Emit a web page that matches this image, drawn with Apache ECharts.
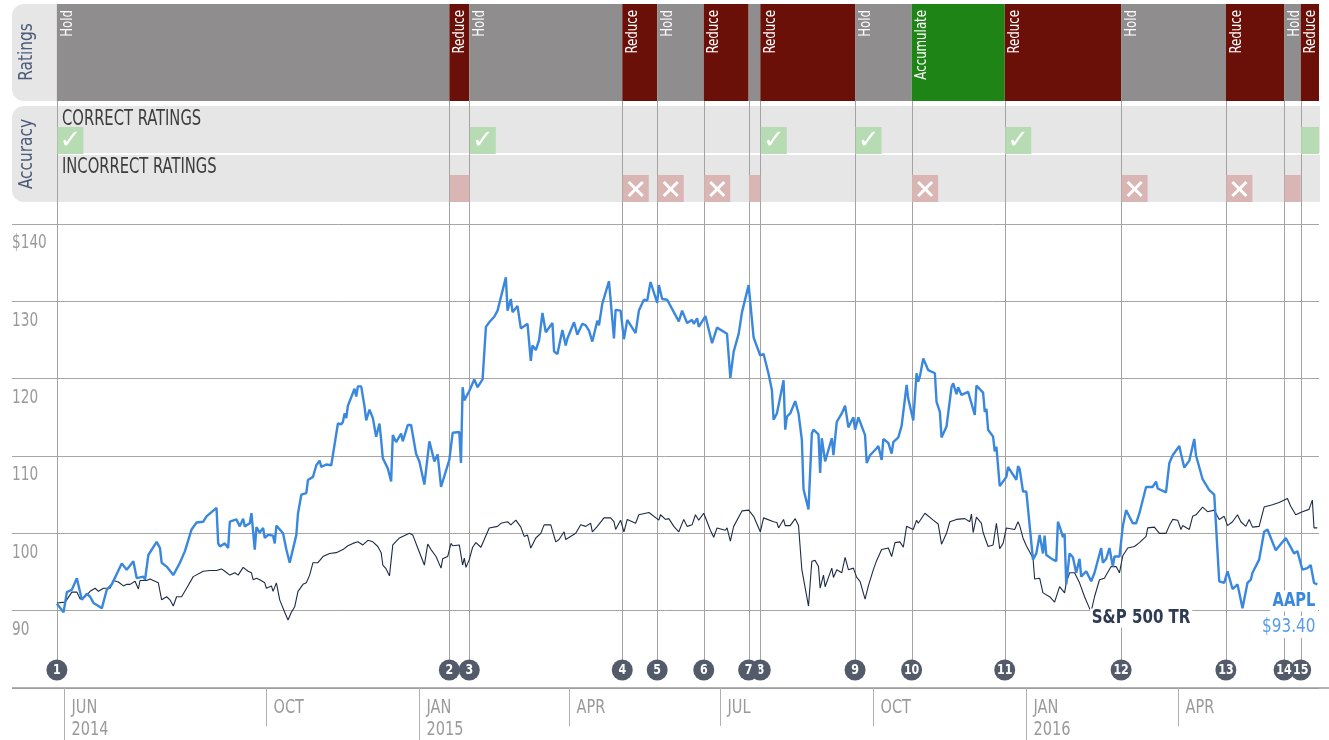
<!DOCTYPE html>
<html><head><meta charset="utf-8">
<script src="https://cdn.jsdelivr.net/npm/echarts@6/dist/echarts.min.js"></script>
<style>html,body{margin:0;padding:0;background:#fff;}#c{width:1329px;height:740px;}</style>
</head><body><div id="c"></div>
<script>
// ---------------- DATA ----------------
const aaplPrice = [
['2014-05-28',90.9],['2014-06-01',89.8],['2014-06-03',92.4],['2014-06-06',92.7],['2014-06-09',94.2],['2014-06-12',91.4],
['2014-06-15',92.2],['2014-06-17',91.8],['2014-06-19',91.0],['2014-06-22',90.6],['2014-06-24',90.3],['2014-06-27',92.7],
['2014-06-30',93.4],['2014-07-06',96.1],['2014-07-09',95.3],['2014-07-13',96.4],['2014-07-15',94.2],['2014-07-19',94.4],
['2014-07-20',94.0],['2014-07-22',97.2],['2014-07-27',98.9],['2014-07-29',98.1],['2014-07-30',96.2],['2014-08-02',95.7],
['2014-08-06',94.6],['2014-08-10',96.2],['2014-08-13',97.7],['2014-08-17',100.5],['2014-08-20',101.4],['2014-08-24',101.5],
['2014-08-26',102.2],['2014-09-01',103.3],['2014-09-02',98.7],['2014-09-03',98.3],['2014-09-06',98.7],['2014-09-08',98.1],
['2014-09-09',101.5],['2014-09-13',101.8],['2014-09-15',100.9],['2014-09-17',101.9],['2014-09-18',100.9],['2014-09-21',101.3],
['2014-09-22',102.6],['2014-09-24',97.9],['2014-09-25',100.8],['2014-09-27',100.1],['2014-09-29',100.7],['2014-09-30',99.4],
['2014-10-02',99.8],['2014-10-05',99.7],['2014-10-06',98.7],['2014-10-07',101.0],['2014-10-11',100.0],['2014-10-13',97.9],
['2014-10-15',96.2],['2014-10-19',99.8],['2014-10-20',102.6],['2014-10-22',105.0],['2014-10-25',105.2],['2014-10-26',106.9],
['2014-10-29',107.3],['2014-10-31',108.8],['2014-11-02',109.4],['2014-11-03',108.6],['2014-11-06',108.9],['2014-11-09',108.8],
['2014-11-13',114.2],['2014-11-15',114.1],['2014-11-16',114.4],['2014-11-17',115.5],['2014-11-18',114.9],['2014-11-19',116.5],
['2014-11-23',118.7],['2014-11-24',117.7],['2014-11-25',119.0],['2014-11-27',119.0],['2014-11-29',116.4],['2014-11-30',114.6],
['2014-12-02',116.0],['2014-12-04',114.9],['2014-12-06',112.5],['2014-12-08',114.2],['2014-12-09',112.1],['2014-12-10',109.7],
['2014-12-13',108.4],['2014-12-15',106.7],['2014-12-16',112.7],['2014-12-18',111.8],['2014-12-21',112.9],['2014-12-22',111.9],
['2014-12-25',114.0],['2014-12-27',114.0],['2014-12-30',110.3],['2015-01-01',109.3],['2015-01-04',106.3],['2015-01-07',111.9],
['2015-01-10',109.3],['2015-01-12',110.2],['2015-01-14',106.0],['2015-01-19',109.5],['2015-01-21',113.0],['2015-01-25',113.1],
['2015-01-26',109.1],['2015-01-27',118.9],['2015-01-28',117.2],['2015-01-31',118.4],['2015-02-03',119.9],['2015-02-05',118.9],
['2015-02-08',119.9],['2015-02-10',126.7],['2015-02-12',127.3],['2015-02-15',128.0],['2015-02-17',128.8],['2015-02-18',128.9],
['2015-02-22',133.1],['2015-02-23',128.8],['2015-02-25',130.3],['2015-02-26',128.6],['2015-03-01',129.4],['2015-03-03',126.5],
['2015-03-07',127.1],['2015-03-09',122.3],['2015-03-10',124.3],['2015-03-12',123.7],['2015-03-14',125.0],['2015-03-16',128.5],
['2015-03-18',126.0],['2015-03-22',127.2],['2015-03-23',123.5],['2015-03-25',123.2],['2015-03-28',126.3],['2015-03-30',124.3],
['2015-03-31',125.2],['2015-04-04',127.3],['2015-04-06',125.7],['2015-04-09',127.1],['2015-04-11',126.9],['2015-04-13',126.2],
['2015-04-15',124.8],['2015-04-18',127.5],['2015-04-19',126.9],['2015-04-21',129.7],['2015-04-25',132.6],['2015-04-28',125.2],
['2015-04-29',128.9],['2015-05-02',128.8],['2015-05-04',125.1],['2015-05-06',127.6],['2015-05-11',125.9],['2015-05-13',128.8],
['2015-05-16',130.2],['2015-05-18',130.1],['2015-05-20',132.5],['2015-05-24',129.8],['2015-05-25',132.1],['2015-05-27',130.3],
['2015-05-30',130.2],['2015-06-03',128.6],['2015-06-06',127.4],['2015-06-08',128.8],['2015-06-11',127.2],['2015-06-14',127.6],
['2015-06-15',127.1],['2015-06-17',127.8],['2015-06-18',126.7],['2015-06-22',128.1],['2015-06-26',124.6],['2015-06-29',126.6],
['2015-07-05',125.8],['2015-07-07',120.1],['2015-07-09',123.5],['2015-07-12',125.8],['2015-07-14',128.6],['2015-07-18',132.1],
['2015-07-21',125.3],['2015-07-22',125.1],['2015-07-25',123.0],['2015-07-27',123.2],['2015-07-30',120.6],['2015-08-01',118.5],
['2015-08-02',114.7],['2015-08-04',115.5],['2015-08-05',115.4],['2015-08-08',119.8],['2015-08-09',113.4],['2015-08-10',115.1],
['2015-08-12',115.5],['2015-08-15',117.1],['2015-08-17',115.5],['2015-08-19',112.1],['2015-08-20',105.7],['2015-08-23',103.1],
['2015-08-25',112.9],['2015-08-26',113.4],['2015-08-29',112.8],['2015-08-30',107.8],['2015-08-31',112.3],['2015-09-02',109.3],
['2015-09-06',112.3],['2015-09-07',110.1],['2015-09-09',114.4],['2015-09-12',115.5],['2015-09-14',116.5],['2015-09-16',113.7],
['2015-09-19',115.0],['2015-09-20',113.4],['2015-09-22',115.0],['2015-09-26',112.7],['2015-09-27',109.1],['2015-09-29',110.1],
['2015-10-03',111.0],['2015-10-04',111.3],['2015-10-06',109.5],['2015-10-07',112.2],['2015-10-10',111.7],['2015-10-12',110.3],
['2015-10-13',111.8],['2015-10-16',112.4],['2015-10-18',113.9],['2015-10-21',119.2],['2015-10-22',117.4],['2015-10-25',114.6],
['2015-10-27',120.7],['2015-10-28',119.6],['2015-10-29',120.3],['2015-10-31',122.6],['2015-11-03',121.1],['2015-11-07',120.7],
['2015-11-08',117.0],['2015-11-10',115.7],['2015-11-11',112.4],['2015-11-14',113.8],['2015-11-15',113.9],['2015-11-17',118.9],
['2015-11-18',119.4],['2015-11-20',118.0],['2015-11-21',118.9],['2015-11-23',117.9],['2015-11-27',118.3],['2015-12-01',115.3],
['2015-12-02',119.1],['2015-12-06',118.2],['2015-12-07',115.7],['2015-12-08',116.1],['2015-12-09',113.4],['2015-12-12',112.5],
['2015-12-13',110.6],['2015-12-14',111.2],['2015-12-16',106.1],['2015-12-20',107.3],['2015-12-21',108.6],['2015-12-26',106.9],
['2015-12-27',108.7],['2015-12-28',108.3],['2015-12-30',105.4],['2016-01-01',105.4],['2016-01-05',96.6],['2016-01-07',97.4],
['2016-01-09',99.8],['2016-01-11',97.4],['2016-01-12',99.7],['2016-01-13',97.2],['2016-01-17',96.6],['2016-01-19',96.4],
['2016-01-20',101.5],['2016-01-21',100.9],['2016-01-23',99.5],['2016-01-24',99.9],['2016-01-25',93.4],['2016-01-27',97.4],
['2016-01-29',96.9],['2016-01-31',94.9],['2016-02-02',96.7],['2016-02-03',94.4],['2016-02-06',95.1],['2016-02-09',93.8],
['2016-02-11',94.9],['2016-02-15',98.1],['2016-02-16',96.2],['2016-02-18',96.7],['2016-02-20',98.1],['2016-02-22',95.7],
['2016-02-23',97.0],['2016-02-26',97.0],['2016-02-28',100.9],['2016-03-01',103.0],['2016-03-05',101.3],['2016-03-07',101.3],
['2016-03-09',102.6],['2016-03-13',106.0],['2016-03-17',106.0],['2016-03-19',106.7],['2016-03-20',105.8],['2016-03-25',105.3],
['2016-03-27',109.1],['2016-03-29',110.1],['2016-04-02',111.3],['2016-04-03',110.3],['2016-04-05',108.5],['2016-04-08',109.4],
['2016-04-11',112.2],['2016-04-12',110.1],['2016-04-16',107.0],['2016-04-20',105.6],['2016-04-23',105.0],['2016-04-26',93.8],
['2016-04-29',93.6],['2016-05-01',95.1],['2016-05-04',92.8],['2016-05-07',93.4],['2016-05-10',90.3],['2016-05-13',93.6],
['2016-05-15',94.0],['2016-05-16',94.9],['2016-05-20',96.6],['2016-05-23',100.2],['2016-05-25',100.5],['2016-05-30',97.8],
['2016-06-05',99.4],['2016-06-10',97.4],['2016-06-12',97.7],['2016-06-15',95.3],['2016-06-18',95.5],['2016-06-20',95.9],
['2016-06-22',93.6],['2016-06-24',93.40]
];
const spxTotalReturn = [
['2014-05-28',91.0],['2014-06-02',91.1],['2014-06-06',92.4],['2014-06-09',92.4],['2014-06-11',91.5],['2014-06-14',91.8],
['2014-06-17',92.5],['2014-06-20',92.9],['2014-06-22',92.5],['2014-06-25',92.9],['2014-06-29',92.9],['2014-07-01',93.9],
['2014-07-04',93.7],['2014-07-07',93.2],['2014-07-09',93.4],['2014-07-11',93.4],['2014-07-14',93.8],['2014-07-16',92.8],
['2014-07-17',93.9],['2014-07-21',93.9],['2014-07-23',94.1],['2014-07-28',93.6],['2014-07-30',91.4],['2014-08-02',91.8],
['2014-08-04',91.4],['2014-08-06',90.6],['2014-08-08',91.8],['2014-08-11',91.8],['2014-08-14',92.9],['2014-08-18',94.4],
['2014-08-24',95.1],['2014-08-28',95.2],['2014-09-01',95.2],['2014-09-04',95.4],['2014-09-06',95.1],['2014-09-09',94.6],
['2014-09-12',94.9],['2014-09-14',94.6],['2014-09-17',95.6],['2014-09-20',95.1],['2014-09-22',94.9],['2014-09-23',94.0],
['2014-09-25',94.2],['2014-09-27',94.0],['2014-09-30',93.6],['2014-10-01',92.9],['2014-10-04',93.2],['2014-10-05',92.5],
['2014-10-07',93.6],['2014-10-09',91.4],['2014-10-12',89.8],['2014-10-14',88.8],['2014-10-16',89.8],['2014-10-18',90.5],
['2014-10-20',92.5],['2014-10-21',92.7],['2014-10-23',93.4],['2014-10-25',93.6],['2014-10-27',94.6],['2014-10-29',96.2],
['2014-11-01',96.2],['2014-11-04',97.0],['2014-11-08',97.4],['2014-11-12',97.5],['2014-11-16',97.9],['2014-11-19',98.4],
['2014-11-22',98.7],['2014-11-25',98.9],['2014-11-28',98.5],['2014-12-01',99.1],['2014-12-04',98.9],['2014-12-07',98.3],
['2014-12-09',97.5],['2014-12-10',95.9],['2014-12-12',95.4],['2014-12-14',94.5],['2014-12-16',98.5],['2014-12-20',99.4],
['2014-12-26',100.0],['2014-12-28',99.8],['2014-12-31',98.1],['2015-01-02',97.0],['2015-01-04',95.9],['2015-01-06',98.6],
['2015-01-08',97.9],['2015-01-11',97.0],['2015-01-14',95.5],['2015-01-15',96.7],['2015-01-18',97.0],['2015-01-20',98.7],
['2015-01-21',98.4],['2015-01-25',98.5],['2015-01-27',95.9],['2015-01-28',96.8],['2015-01-29',95.6],['2015-01-31',96.6],
['2015-02-02',98.2],['2015-02-04',98.8],['2015-02-07',98.2],['2015-02-09',99.2],['2015-02-12',100.7],['2015-02-17',100.9],
['2015-02-19',101.3],['2015-02-23',101.5],['2015-02-25',101.1],['2015-02-28',101.7],['2015-03-03',100.8],['2015-03-05',99.6],
['2015-03-07',99.8],['2015-03-09',98.1],['2015-03-12',99.4],['2015-03-15',100.0],['2015-03-17',101.1],['2015-03-18',101.3],
['2015-03-21',101.1],['2015-03-24',98.9],['2015-03-26',99.2],['2015-03-29',100.2],['2015-03-30',99.2],['2015-04-05',100.0],
['2015-04-08',101.1],['2015-04-11',100.9],['2015-04-14',101.3],['2015-04-15',100.2],['2015-04-18',100.9],['2015-04-22',102.0],
['2015-04-26',102.0],['2015-04-28',101.5],['2015-04-29',100.5],['2015-05-02',101.7],['2015-05-04',100.2],['2015-05-06',101.8],
['2015-05-11',101.3],['2015-05-13',102.4],['2015-05-19',102.7],['2015-05-25',101.7],['2015-05-26',102.4],['2015-05-29',101.8],
['2015-05-31',101.9],['2015-06-03',100.9],['2015-06-06',100.2],['2015-06-09',101.8],['2015-06-11',100.9],['2015-06-14',101.1],
['2015-06-16',102.4],['2015-06-18',101.7],['2015-06-21',102.6],['2015-06-25',100.4],['2015-06-27',99.5],['2015-06-29',100.7],
['2015-07-04',100.4],['2015-07-05',100.7],['2015-07-07',99.0],['2015-07-09',100.9],['2015-07-14',102.9],['2015-07-18',103.0],
['2015-07-21',102.2],['2015-07-25',100.2],['2015-07-27',102.0],['2015-08-02',101.5],['2015-08-04',101.4],['2015-08-05',100.7],
['2015-08-08',101.8],['2015-08-09',101.0],['2015-08-12',101.0],['2015-08-15',101.9],['2015-08-17',101.0],['2015-08-19',95.3],
['2015-08-23',90.6],['2015-08-25',96.4],['2015-08-27',96.5],['2015-08-29',95.7],['2015-08-30',92.9],['2015-09-01',94.6],
['2015-09-02',93.1],['2015-09-06',95.5],['2015-09-07',94.3],['2015-09-09',95.3],['2015-09-12',94.9],['2015-09-14',96.9],
['2015-09-16',95.3],['2015-09-19',95.5],['2015-09-21',94.3],['2015-09-23',93.8],['2015-09-26',91.5],['2015-09-28',93.2],
['2015-10-01',95.3],['2015-10-03',96.5],['2015-10-06',97.9],['2015-10-10',98.1],['2015-10-12',97.0],['2015-10-14',98.8],
['2015-10-17',98.9],['2015-10-19',98.2],['2015-10-21',100.9],['2015-10-25',100.5],['2015-10-27',101.7],['2015-10-28',101.3],
['2015-11-01',102.6],['2015-11-06',101.7],['2015-11-09',101.2],['2015-11-11',98.6],['2015-11-14',100.0],['2015-11-16',101.5],
['2015-11-20',101.8],['2015-11-25',101.9],['2015-11-28',101.5],['2015-11-29',102.5],['2015-11-30',100.1],['2015-12-02',102.1],
['2015-12-05',101.3],['2015-12-06',100.1],['2015-12-09',98.3],['2015-12-12',98.5],['2015-12-14',101.3],['2015-12-16',98.0],
['2015-12-18',98.7],['2015-12-20',100.7],['2015-12-25',100.5],['2015-12-27',101.5],['2015-12-28',101.0],['2015-12-30',99.4],
['2016-01-01',98.4],['2016-01-05',96.8],['2016-01-06',94.1],['2016-01-09',94.2],['2016-01-11',92.3],['2016-01-15',91.8],
['2016-01-18',91.1],['2016-01-21',93.1],['2016-01-24',92.3],['2016-01-25',93.6],['2016-01-27',94.9],['2016-01-30',94.9],
['2016-02-02',93.6],['2016-02-05',91.8],['2016-02-08',90.3],['2016-02-09',89.9],['2016-02-11',91.8],['2016-02-14',94.0],
['2016-02-17',94.2],['2016-02-18',94.6],['2016-02-21',95.7],['2016-02-24',95.7],['2016-02-26',94.9],['2016-02-28',97.1],
['2016-03-02',98.1],['2016-03-06',98.3],['2016-03-09',98.8],['2016-03-13',99.6],['2016-03-14',100.7],['2016-03-18',100.8],
['2016-03-21',100.0],['2016-03-25',100.0],['2016-03-27',101.0],['2016-03-29',101.8],['2016-04-01',101.7],['2016-04-03',100.5],
['2016-04-04',101.0],['2016-04-08',100.5],['2016-04-10',102.2],['2016-04-12',102.4],['2016-04-16',103.4],['2016-04-19',102.8],
['2016-04-23',103.0],['2016-04-26',101.8],['2016-04-29',102.2],['2016-05-01',101.0],['2016-05-04',101.5],['2016-05-07',102.4],
['2016-05-09',101.5],['2016-05-12',100.9],['2016-05-14',101.8],['2016-05-16',100.8],['2016-05-20',100.9],['2016-05-23',103.4],
['2016-05-28',103.7],['2016-06-01',104.0],['2016-06-06',104.5],['2016-06-08',103.5],['2016-06-11',102.4],['2016-06-15',102.8],
['2016-06-19',103.1],['2016-06-21',104.3],['2016-06-22',100.7],['2016-06-24',100.7]
];
const eventDates = ['2014-05-28','2015-01-19','2015-01-31','2015-05-03','2015-05-24','2015-06-21','2015-07-18','2015-07-25',
  '2015-09-20','2015-10-24','2015-12-19','2016-02-27','2016-04-30','2016-06-04','2016-06-14'];
const eventNumbers = ['1','2','3','4','5','6','7','8','9','10','11','12','13','14','15'];
const ratings = ['Hold','Reduce','Hold','Reduce','Hold','Reduce','Hold','Reduce','Hold','Accumulate','Reduce','Hold','Reduce','Hold','Reduce'];
const ratingCorrect = [true,false,true,false,false,false,false,true,true,false,true,false,false,false,true];
const periodEnd = '2016-06-25';
const axisStart = '2014-05-01';
const yTicks = [80, 90, 100, 110, 120, 130, 140];
const xTickDates = ['2014-06-01','2014-10-01','2015-01-01','2015-04-01','2015-07-01','2015-10-01','2016-01-01','2016-04-01'];
const xTickLabels = ['JUN\n2014','OCT','JAN\n2015','APR','JUL','OCT','JAN\n2016','APR'];
const seriesNames = ['AAPL','S&P 500 TR'];

// ---------------- BUILD ----------------
function toTs(s){const p=s.split('-').map(Number);return new Date(p[0],p[1]-1,p[2]).getTime();}
const FONT = "'DejaVu Sans Condensed','DejaVu Sans','Noto Sans',sans-serif";
const ratingColor = {Hold:'#8f8d8e', Reduce:'#6a1008', Accumulate:'#1f8416'};
const bands = eventDates.map((d,i)=>({start:toTs(d), end:toTs(eventDates[i+1]||periodEnd), rating:ratings[i], correct:ratingCorrect[i], num:eventNumbers[i]}));
const L = 12, W = 1307;
function grid(top,height){return {left:L,width:W,top,height,containLabel:false,outerBoundsMode:'none'};}
function tAxis(g){return {type:'time',gridIndex:g,min:toTs(axisStart),max:toTs(periodEnd),show:false};}
function uAxis(g){return {type:'value',gridIndex:g,min:0,max:1,show:false};}

const chart = echarts.init(document.getElementById('c'), null, {renderer:'canvas'});
const option = {
  animation:false,
  backgroundColor:'#fff',
  grid:[grid(224,464), grid(101,559), grid(660,20), grid(4,97), grid(106,96), grid(688,52)],
  xAxis:[tAxis(0),tAxis(1),tAxis(2),tAxis(3),tAxis(4),tAxis(5)],
  yAxis:[
    {type:'value',gridIndex:0,min:yTicks[0],max:yTicks[yTicks.length-1],interval:10,
     axisLine:{show:false},axisTick:{show:false},axisLabel:{show:false},
     splitLine:{show:true,lineStyle:{color:'#a6a6a6',width:1}}},
    uAxis(1),uAxis(2),uAxis(3),uAxis(4),uAxis(5)
  ],
  graphic:{elements:[
    {type:'rect',z:0,shape:{x:12,y:4,width:48,height:97,r:[12,0,0,12]},style:{fill:'#e6e6e6'}},
    {type:'text',z:1,x:27,y:52,rotation:Math.PI/2,scaleX:0.9,style:{text:'Ratings',align:'center',verticalAlign:'middle',fill:'#4d5b78',font:'19px '+FONT}},
    {type:'rect',z:0,shape:{x:12,y:106,width:1308,height:96,r:[12,0,0,12]},style:{fill:'#e6e6e6'}},
    {type:'rect',z:0,shape:{x:57,y:153,width:1263,height:2},style:{fill:'#ffffff'}},
    {type:'text',z:1,x:27,y:154,rotation:Math.PI/2,scaleX:0.9,style:{text:'Accuracy',align:'center',verticalAlign:'middle',fill:'#4d5b78',font:'19px '+FONT}},
    {type:'text',z:1,x:62,y:120,scaleX:0.78,style:{text:'CORRECT RATINGS',align:'left',verticalAlign:'middle',fill:'#3c3c3c',font:'21px '+FONT}},
    {type:'text',z:1,x:62,y:168,scaleX:0.78,style:{text:'INCORRECT RATINGS',align:'left',verticalAlign:'middle',fill:'#3c3c3c',font:'21px '+FONT}},
    {type:'line',z:1,shape:{x1:12,y1:688,x2:1329,y2:688},style:{stroke:'#9a9a9a',lineWidth:1.5}},
    {type:'text',z:50,x:1318,y:601,scaleX:0.86,style:{text:seriesNames[0],align:'right',verticalAlign:'middle',fill:'#3a87de',font:'bold 19px '+FONT,backgroundColor:'#fff',padding:[1,3]}},
    {type:'text',z:50,x:1318,y:627,scaleX:0.85,style:{text:'$'+aaplPrice[aaplPrice.length-1][1].toFixed(2),align:'right',verticalAlign:'middle',fill:'#5a9de6',font:'20px '+FONT,backgroundColor:'#fff',padding:[1,3]}},
    {type:'text',z:50,x:1090,y:618,scaleX:0.88,style:{text:seriesNames[1],align:'left',verticalAlign:'middle',fill:'#2f3b52',font:'bold 19px '+FONT,backgroundColor:'#fff',padding:[0,2]}}
  ]},
  series:[
    // y tick labels
    {type:'custom',xAxisIndex:0,yAxisIndex:0,z:1,silent:true,data:yTicks.slice(1).map(v=>[toTs(axisStart),v]),
     renderItem:(params,api)=>{const v=api.value(1);const y=api.coord([api.value(0),v])[1];const top=yTicks[yTicks.length-1];
       return {type:'text',x:12,y:y+10,scaleX:0.8,style:{text:(v===top?'$':'')+v,fill:'#9a9a9a',font:'19px '+FONT,align:'left',verticalAlign:'top'}};}},
    // event lines
    {type:'custom',xAxisIndex:1,yAxisIndex:1,z:1,silent:true,data:bands.map(b=>[b.start,0]),
     renderItem:(params,api)=>{const cs=params.coordSys;const x=Math.round(api.coord([bands[params.dataIndex].start,0])[0])+0.5;
       return {type:'line',shape:{x1:x,y1:cs.y,x2:x,y2:cs.y+cs.height},style:{stroke:'#a3a3a3',lineWidth:1}};}},
    // S&P
    {type:'line',name:seriesNames[1],xAxisIndex:0,yAxisIndex:0,z:4,symbol:'none',showSymbol:false,silent:true,
     data:spxTotalReturn.map(p=>[toTs(p[0]),p[1]]),lineStyle:{color:'#1e2b45',width:1.1}},
    // AAPL
    {type:'line',name:seriesNames[0],xAxisIndex:0,yAxisIndex:0,z:5,symbol:'none',showSymbol:false,silent:true,
     data:aaplPrice.map(p=>[toTs(p[0]),p[1]]),lineStyle:{color:'#3a87de',width:2.4}},
    // number circles
    {type:'custom',xAxisIndex:2,yAxisIndex:2,z:6,silent:true,data:bands.map(b=>[b.start,0]),
     renderItem:(params,api)=>{const i=params.dataIndex,b=bands[i],cs=params.coordSys;const x=api.coord([b.start,0])[0];const cy=cs.y+cs.height/2;const n=bands.length;
       return {type:'group',children:[
         {type:'circle',z2:(n-i)*2,shape:{cx:x,cy:cy,r:10.5},style:{fill:'#535b6a'}},
         {type:'text',z2:(n-i)*2+1,x:x,y:cy+0.5,scaleX:0.88,style:{text:b.num,fill:'#fff',font:'bold 14px '+FONT,align:'center',verticalAlign:'middle'}}]};}},
    // rating bands
    {type:'custom',xAxisIndex:3,yAxisIndex:3,z:2,silent:true,data:bands.map(b=>[b.start,0]),
     renderItem:(params,api)=>{const b=bands[params.dataIndex],cs=params.coordSys;const xa=api.coord([b.start,0])[0],xb=api.coord([b.end,0])[0];
       const ch=[{type:'rect',shape:{x:xa,y:cs.y,width:xb-xa,height:cs.height},style:{fill:ratingColor[b.rating]}}];
       if(xb-xa>=14) ch.push({type:'text',x:xa+10.5,y:cs.y+6,rotation:Math.PI/2,scaleX:0.82,style:{text:b.rating,fill:'#fff',font:'16px '+FONT,align:'right',verticalAlign:'middle'}});
       return {type:'group',children:ch};}},
    // accuracy markers
    {type:'custom',xAxisIndex:4,yAxisIndex:4,z:3,silent:true,data:bands.map(b=>[b.start,0]),
     renderItem:(params,api)=>{const b=bands[params.dataIndex],cs=params.coordSys;const xa=api.coord([b.start,0])[0]+0.5,xb=api.coord([b.end,0])[0];
       const bw=xb-xa, w=Math.min(26,bw), top=cs.y+(b.correct?21:69);
       const ch=[{type:'rect',shape:{x:xa,y:top,width:w,height:27},style:{fill:b.correct?'#b7dbb3':'#d9b5b4'}}];
       if(bw>=26){
         if(b.correct) ch.push({type:'text',x:xa+13,y:top+14,style:{text:'\u2713',fill:'#fff',font:"26px 'DejaVu Sans',sans-serif",align:'center',verticalAlign:'middle'}});
         else {const cx=xa+13, cy=top+14, h=7;
           ch.push({type:'line',shape:{x1:cx-h,y1:cy-h,x2:cx+h,y2:cy+h},style:{stroke:'#fff',lineWidth:3}});
           ch.push({type:'line',shape:{x1:cx-h,y1:cy+h,x2:cx+h,y2:cy-h},style:{stroke:'#fff',lineWidth:3}});}
       }
       return {type:'group',children:ch};}},
    // bottom axis ticks + labels
    {type:'custom',xAxisIndex:5,yAxisIndex:5,z:3,silent:true,data:xTickDates.map(d=>[toTs(d),0]),
     renderItem:(params,api)=>{const i=params.dataIndex,cs=params.coordSys;const x=Math.round(api.coord([api.value(0),0])[0])+0.5;const lab=xTickLabels[i];
       const yr=lab.indexOf('\n')>=0;
       return {type:'group',children:[
         {type:'line',shape:{x1:x,y1:cs.y,x2:x,y2:cs.y+(yr?52:38)},style:{stroke:'#b0b0b0',lineWidth:1}},
         {type:'text',x:x+7,y:cs.y+9,scaleX:0.85,style:{text:lab,fill:'#9a9a9a',font:'19px '+FONT,lineHeight:22,align:'left',verticalAlign:'top'}}]};}}
  ]
};
chart.setOption(option);
</script>
</body></html>
